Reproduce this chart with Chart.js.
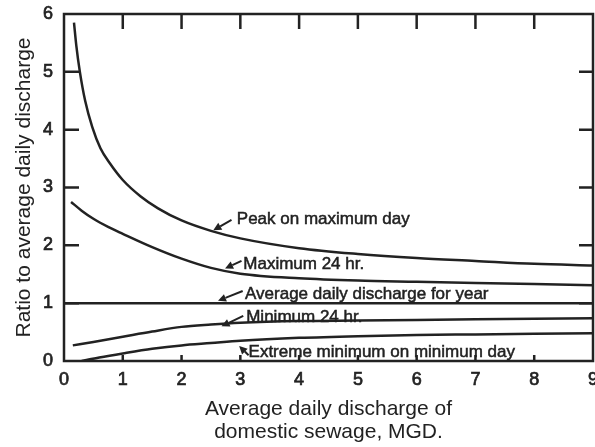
<!DOCTYPE html>
<html>
<head>
<meta charset="utf-8">
<script src="https://cdn.jsdelivr.net/npm/chart.js@4.4.0/dist/chart.umd.min.js"></script>
<style>
  html, body { margin: 0; padding: 0; background: #fff; }
</style>
</head>
<body>
<canvas id="chart" width="595" height="447"></canvas>
<script>
// average daily discharge (MGD) vs ratio to average daily discharge
var peakX = [0.17, 0.21, 0.27, 0.36, 0.48, 0.62, 0.78, 1.0, 1.3, 1.6, 2.0, 2.5, 3.0, 4.0, 5.0, 6.0, 7.0, 8.0, 9.0];
var peakY = [5.85, 5.45, 5.0, 4.5, 4.05, 3.68, 3.42, 3.13, 2.85, 2.64, 2.43, 2.25, 2.12, 1.95, 1.85, 1.78, 1.73, 1.68, 1.65];

var maxX = [0.12, 0.3, 0.5, 0.75, 1.0, 1.5, 2.0, 2.5, 3.0, 4.0, 5.0, 6.0, 7.0, 8.0, 9.0];
var maxY = [2.75, 2.6, 2.46, 2.32, 2.2, 1.97, 1.77, 1.61, 1.51, 1.43, 1.39, 1.37, 1.35, 1.33, 1.31];

var avgX = [0, 9];
var avgY = [1, 1];

var minX = [0.15, 0.5, 1.0, 1.5, 2.0, 2.5, 3.0, 4.0, 5.0, 6.0, 7.0, 8.0, 9.0];
var minY = [0.27, 0.33, 0.42, 0.51, 0.59, 0.63, 0.66, 0.69, 0.70, 0.71, 0.72, 0.73, 0.74];

var extX = [0.3, 0.6, 1.0, 1.5, 2.0, 2.5, 3.0, 4.0, 5.0, 6.0, 7.0, 8.0, 9.0];
var extY = [0.0, 0.06, 0.13, 0.21, 0.27, 0.31, 0.35, 0.40, 0.43, 0.45, 0.46, 0.47, 0.48];

var xTicks = [0, 1, 2, 3, 4, 5, 6, 7, 8, 9];
var yTicks = [0, 1, 2, 3, 4, 5, 6];

var curveNames = ["Peak on maximum day", "Maximum 24 hr.", "Average daily discharge for year",
                  "Minimum 24 hr.", "Extreme minimum on minimum day"];

var ink = "#222";

// label placement (data units): text start, arrow tail, arrow tip
var notes = [
  { text: curveNames[0], at: [2.94, 2.37], tail: [2.85, 2.44], tip: [2.54, 2.26] },
  { text: curveNames[1], at: [3.05, 1.59], tail: [3.02, 1.73], tip: [2.74, 1.60] },
  { text: curveNames[2], at: [3.08, 1.08], tail: [3.04, 1.21], tip: [2.62, 1.04] },
  { text: curveNames[3], at: [3.10, 0.68], tail: [3.05, 0.78], tip: [2.68, 0.60] },
  { text: curveNames[4], at: [3.14, 0.074], tail: [3.14, 0.10], tip: [2.98, 0.26] }
];

function pts(xs, ys) {
  return xs.map(function (x, i) { return { x: x, y: ys[i] }; });
}

function curve(label, xs, ys) {
  return {
    label: label,
    data: pts(xs, ys),
    borderColor: ink,
    borderWidth: 2.5,
    pointRadius: 0,
    fill: false,
    cubicInterpolationMode: "monotone"
  };
}

// frame with inward ticks, plus the arrow labels
var framePlugin = {
  id: "frame",
  afterDatasetsDraw: function (chart) {
    var ctx = chart.ctx, a = chart.chartArea;
    var xs = chart.scales.x, ys = chart.scales.y;
    ctx.save();
    ctx.strokeStyle = ink;
    ctx.lineWidth = 2.5;
    ctx.strokeRect(a.left, a.top, a.right - a.left, a.bottom - a.top);

    ctx.beginPath();
    xTicks.slice(1, -1).forEach(function (v) {
      var px = xs.getPixelForValue(v);
      ctx.moveTo(px, a.top); ctx.lineTo(px, a.top + 15);
      ctx.moveTo(px, a.bottom); ctx.lineTo(px, a.bottom - 6);
    });
    yTicks.slice(1, -1).forEach(function (v) {
      var py = ys.getPixelForValue(v);
      ctx.moveTo(a.left, py); ctx.lineTo(a.left + 15, py);
      ctx.moveTo(a.right, py); ctx.lineTo(a.right - 14, py);
    });
    ctx.stroke();

    ctx.fillStyle = ink;
    ctx.font = '17px "Liberation Sans", Arial, sans-serif';
    ctx.textBaseline = "alphabetic";
    ctx.textAlign = "left";
    notes.forEach(function (n) {
      var tx = xs.getPixelForValue(n.at[0]), ty = ys.getPixelForValue(n.at[1]);
      ctx.lineWidth = 0.5;
      ctx.fillText(n.text, tx, ty);
      ctx.strokeText(n.text, tx, ty);

      var x0 = xs.getPixelForValue(n.tail[0]), y0 = ys.getPixelForValue(n.tail[1]);
      var x1 = xs.getPixelForValue(n.tip[0]), y1 = ys.getPixelForValue(n.tip[1]);
      var ang = Math.atan2(y1 - y0, x1 - x0);
      var len = 8, half = 4;
      var bx = x1 - len * Math.cos(ang), by = y1 - len * Math.sin(ang);
      ctx.lineWidth = 2;
      ctx.beginPath();
      ctx.moveTo(x0, y0);
      ctx.lineTo(bx, by);
      ctx.stroke();
      ctx.beginPath();
      ctx.moveTo(x1, y1);
      ctx.lineTo(bx + half * Math.sin(ang), by - half * Math.cos(ang));
      ctx.lineTo(bx - half * Math.sin(ang), by + half * Math.cos(ang));
      ctx.closePath();
      ctx.fill();
    });
    ctx.restore();
  }
};

Chart.defaults.font.family = '"Liberation Sans", Arial, Helvetica, sans-serif';
Chart.defaults.color = ink;

new Chart(document.getElementById("chart").getContext("2d"), {
  type: "line",
  data: {
    datasets: [
      curve(curveNames[0], peakX, peakY),
      curve(curveNames[1], maxX, maxY),
      curve(curveNames[2], avgX, avgY),
      curve(curveNames[3], minX, minY),
      curve(curveNames[4], extX, extY)
    ]
  },
  options: {
    responsive: false,
    animation: false,
    layout: { padding: { top: 14, right: 2, left: 0, bottom: 0 } },
    plugins: {
      legend: { display: false },
      tooltip: { enabled: false }
    },
    scales: {
      x: {
        type: "linear",
        min: 0,
        max: 9,
        border: { display: false },
        grid: { display: false, drawTicks: false },
        ticks: {
          stepSize: 1,
          padding: 8,
          color: ink,
          textStrokeColor: ink,
          textStrokeWidth: 0.7,
          font: { size: 18 },
          callback: function (v) { return xTicks.indexOf(v) >= 0 ? String(v) : ""; }
        },
        title: {
          display: true,
          text: ["Average daily discharge of", "domestic sewage, MGD."],
          color: ink,
          font: { size: 21, lineHeight: 1.1 },
          padding: { top: 0, bottom: 3 }
        },
        afterFit: function (s) { s.height = 86; s.paddingLeft = 0; s.paddingRight = 0; }
      },
      y: {
        min: 0,
        max: 6,
        border: { display: false },
        grid: { display: false, drawTicks: false },
        ticks: {
          stepSize: 1,
          padding: 11,
          color: ink,
          textStrokeColor: ink,
          textStrokeWidth: 0.7,
          font: { size: 18 },
          callback: function (v) { return yTicks.indexOf(v) >= 0 ? String(v) : ""; }
        },
        title: {
          display: true,
          text: "Ratio to average daily discharge",
          color: ink,
          font: { size: 21, lineHeight: 1.2 },
          padding: { top: 12, bottom: 0 }
        },
        afterFit: function (s) { s.width = 64; s.paddingTop = 0; s.paddingBottom = 0; }
      }
    }
  },
  plugins: [framePlugin]
});
</script>
</body>
</html>
